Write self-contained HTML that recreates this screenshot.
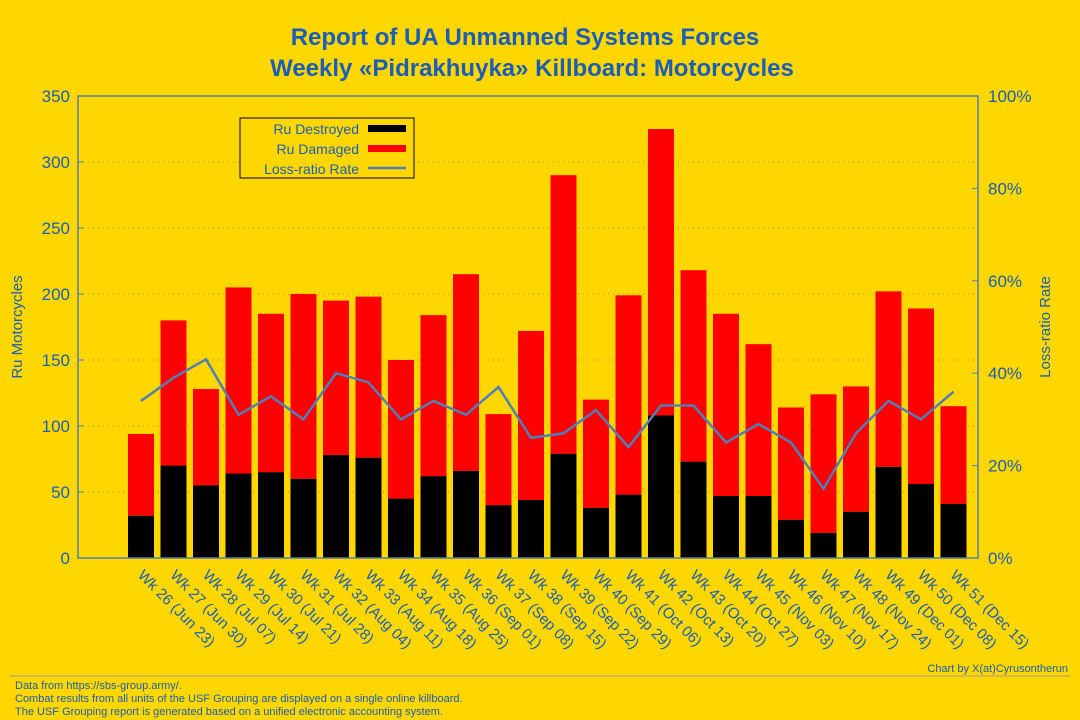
<!DOCTYPE html>
<html><head><meta charset="utf-8"><style>
body{margin:0;background:#FFD700;}
svg{display:block;font-family:"Liberation Sans",sans-serif;}
</style></head><body>
<svg id="c" width="1080" height="720">
<rect width="1080" height="720" fill="#FFD700"/>
<text x="525" y="45" text-anchor="middle" font-size="24" font-weight="bold" fill="#1a5eb8">Report of UA Unmanned Systems Forces</text>
<text x="532" y="76" text-anchor="middle" font-size="24" font-weight="bold" fill="#1a5eb8">Weekly «Pidrakhuyka» Killboard: Motorcycles</text>
<g id="grid"></g><g id="bars"></g><g id="line"></g><g id="axes"></g>
<text transform="translate(22,327) rotate(-90)" text-anchor="middle" font-size="15" fill="#1a5eb8">Ru Motorcycles</text>
<text transform="translate(1050,327) rotate(-90)" text-anchor="middle" font-size="15" fill="#1a5eb8">Loss-ratio Rate</text>
<g>
<rect x="240" y="118" width="174" height="60" fill="#FFD700" stroke="#000" stroke-width="1"/>
<text x="359" y="134" text-anchor="end" font-size="14" fill="#1a5eb8">Ru Destroyed</text>
<rect x="368" y="125" width="38" height="7" fill="#000"/>
<text x="359" y="154" text-anchor="end" font-size="14" fill="#1a5eb8">Ru Damaged</text>
<rect x="368" y="145" width="38" height="7" fill="#ff0000"/>
<text x="359" y="174" text-anchor="end" font-size="14" fill="#1a5eb8">Loss-ratio Rate</text>
<line x1="368" y1="168" x2="406" y2="168" stroke="#4f7fb8" stroke-width="2.5"/>
</g>
<line x1="10" y1="676" x2="1070" y2="676" stroke="#999" stroke-width="1"/>
<text x="1068" y="672" text-anchor="end" font-size="11" fill="#1a5eb8">Chart by X(at)Cyrusontherun</text>
<g font-size="11" fill="#1a5eb8">
<text x="15" y="689">Data from https://sbs-group.army/.</text>
<text x="15" y="702">Combat results from all units of the USF Grouping are displayed on a single online killboard.</text>
<text x="15" y="715">The USF Grouping report is generated based on a unified electronic accounting system.</text>
</g>
</svg>
<script>
const categories=["Wk 26 (Jun 23)","Wk 27 (Jun 30)","Wk 28 (Jul 07)","Wk 29 (Jul 14)","Wk 30 (Jul 21)","Wk 31 (Jul 28)","Wk 32 (Aug 04)","Wk 33 (Aug 11)","Wk 34 (Aug 18)","Wk 35 (Aug 25)","Wk 36 (Sep 01)","Wk 37 (Sep 08)","Wk 38 (Sep 15)","Wk 39 (Sep 22)","Wk 40 (Sep 29)","Wk 41 (Oct 06)","Wk 42 (Oct 13)","Wk 43 (Oct 20)","Wk 44 (Oct 27)","Wk 45 (Nov 03)","Wk 46 (Nov 10)","Wk 47 (Nov 17)","Wk 48 (Nov 24)","Wk 49 (Dec 01)","Wk 50 (Dec 08)","Wk 51 (Dec 15)"];
const totals=[94,180,128,205,185,200,195,198,150,184,215,109,172,290,120,199,325,218,185,162,114,124,130,202,189,115];
const destroyed=[32,70,55,64,65,60,78,76,45,62,66,40,44,79,38,48,108,73,47,47,29,19,35,69,56,41];
const ratio=[34,39,43,31,35,30,40,38,30,34,31,37,26,27,32,24,33,33,25,29,25,15,27,34,30,36];
const yTicks=[0,50,100,150,200,250,300,350];
const y2Ticks=[0,20,40,60,80,100];
const NS="http://www.w3.org/2000/svg";
const L=78,R=978,T=96,B=558;
const step=32.5,x0=141;
const xc=i=>x0+i*step;
const y=v=>B-(B-T)*v/350;
const y2=v=>B-(B-T)*v/100;
function el(t,a,p){const e=document.createElementNS(NS,t);for(const k in a)e.setAttribute(k,a[k]);document.getElementById(p).appendChild(e);return e;}
yTicks.forEach(v=>{
 if(v>0&&v<350){const g=el('line',{x1:L,x2:R,y1:y(v),y2:y(v),stroke:'#a09040','stroke-width':1,'stroke-dasharray':'1 4'},'grid');
 
 }
 const t=el('text',{x:L-8,y:y(v)+6,'text-anchor':'end','font-size':17,fill:'#1a5eb8'},'axes');t.textContent=v;
 
 
 el('line',{x1:L,x2:L+6,y1:y(v),y2:y(v),stroke:'#4f7fb8'},'axes');
});
y2Ticks.forEach(v=>{
 const t=el('text',{x:R+10,y:y2(v)+6,'font-size':17,fill:'#1a5eb8'},'axes');t.textContent=v+'%';
 
 
 el('line',{x1:R-6,x2:R,y1:y2(v),y2:y2(v),stroke:'#4f7fb8'},'axes');
});
el('rect',{x:L,y:T,width:R-L,height:B-T,fill:'none',stroke:'#4f7fb8','stroke-width':1.5},'axes');
const bw=26;
categories.forEach((c,i)=>{
 const r=el('rect',{x:xc(i)-bw/2,y:y(totals[i]),width:bw,height:y(destroyed[i])-y(totals[i]),fill:'#ff0000'},'bars');
 
 
 const b=el('rect',{x:xc(i)-bw/2,y:y(destroyed[i]),width:bw,height:B-y(destroyed[i]),fill:'#000'},'bars');
 
 
 const t=el('text',{transform:`translate(${xc(i)-4},${B+18}) rotate(45)`,'font-size':15,fill:'#1a5eb8'},'axes');t.textContent=c;
 
 
});
const p=el('polyline',{points:ratio.map((v,i)=>xc(i)+','+y2(v)).join(' '),fill:'none',stroke:'#4f7fb8','stroke-width':2.5},'line');


</script>
</body></html>
